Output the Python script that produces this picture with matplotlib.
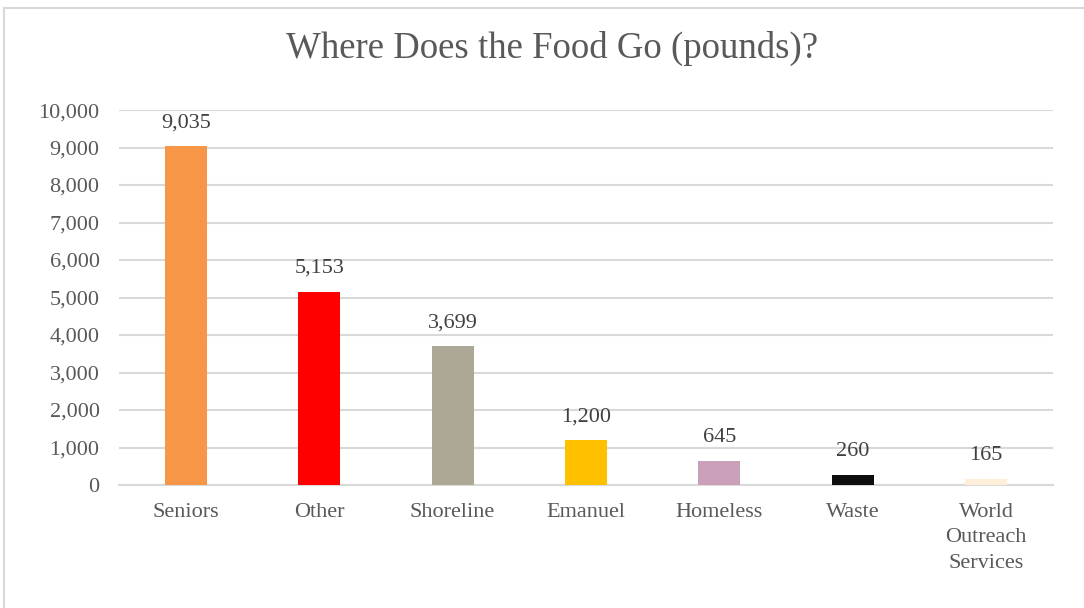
import matplotlib.pyplot as plt
from matplotlib.patches import Rectangle

# данные с графика
categories = ['Seniors', 'Other', 'Shoreline', 'Emanuel', 'Homeless', 'Waste',
              'World\nOutreach\nServices']
pounds = [9035, 5153, 3699, 1200, 645, 260, 165]
bar_colors = ['#F79646', '#FF0000', '#ADA796', '#FFC000', '#C9A0B8', '#0D0D0D', '#FDEFD9']
y_ticks = [0, 1000, 2000, 3000, 4000, 5000, 6000, 7000, 8000, 9000, 10000]

plt.rcParams['font.family'] = ['Liberation Serif', 'DejaVu Serif']

fig = plt.figure(figsize=(10.84, 6.08), dpi=100)
ax = fig.add_axes([0.1098, 0.2023, 0.8616, 0.6167])

# рамка вокруг диаграммы
fig.patches.append(Rectangle((4 / 1084, -0.1), 1.2, 1 - 8 / 608 + 0.1,
                             transform=fig.transFigure, fill=False,
                             edgecolor='#D9D9D9', linewidth=1.5))

x = range(len(categories))
bars = ax.bar(x, pounds, width=0.315, color=bar_colors, zorder=3)

for xi, v in zip(x, pounds):
    ax.text(xi, v + 370, f'{v:,}', ha='center', va='bottom',
            fontsize=16, color='#404040', zorder=4)

ax.set_xlim(-0.5, len(categories) - 0.5)
ax.set_ylim(0, 10000)
ax.set_yticks(y_ticks)
ax.set_yticklabels([f'{t:,}' for t in y_ticks])
ax.set_xticks(list(x))
ax.set_xticklabels(categories, linespacing=1.45, va='top')

ax.yaxis.grid(True, color='#D9D9D9', linewidth=1.5, zorder=0)
ax.set_axisbelow(True)
for s in ['top', 'right', 'left']:
    ax.spines[s].set_visible(False)
ax.spines['bottom'].set_color('#D9D9D9')
ax.spines['bottom'].set_linewidth(1.5)

ax.tick_params(axis='both', length=0, labelsize=16, labelcolor='#595959')
ax.tick_params(axis='y', pad=14)
ax.tick_params(axis='x', pad=13)

fig.suptitle('Where Does the Food Go (pounds)?', fontsize=26.5, color='#595959',
             x=0.509, y=0.95)

fig.savefig('out.png', dpi=100)
